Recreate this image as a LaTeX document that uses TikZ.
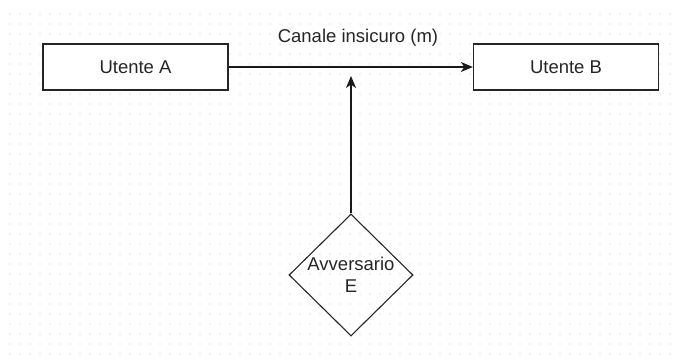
\documentclass[tikz,border=0pt]{standalone}
\usepackage{fontspec}
\setmainfont{Liberation Sans}
\usetikzlibrary{arrows.meta,shapes.geometric}
\begin{document}
\begin{tikzpicture}[x=1pt,y=-1pt,
  every node/.style={font=\fontsize{18.5}{22.5}\selectfont, text=black!85},
  box/.style={draw=black!85, line width=1.3pt, minimum width=185pt, minimum height=46pt, inner sep=0pt, fill=white},
  dia/.style={draw=black!85, line width=1.1pt, diamond, minimum width=124pt, minimum height=122pt, inner sep=0pt},
  conn/.style={draw=black!90, line width=1.3pt, -{Stealth[length=12pt,width=10pt,inset=3.5pt]}}]
\useasboundingbox (0,0) rectangle (680,362);
\fill[white] (0,0) rectangle (680,362);
\foreach \gx in {10,20,...,670} {
  \foreach \gy in {14,24,...,354} {
    \fill[black!20] (\gx,\gy) circle (0.6pt);
  }
}
\node[box] (A) at (135.5,67) {Utente A};
\node[box] (B) at (566,67) {Utente B};
\node[dia] (E) at (351,275) {};
\node[align=center] (Et) at (351,275) {Avversario\\E};
\coordinate (m) at (351,76);
\draw[conn] (A.east) -- (B.west);
\node (lbl) at (358,38) {Canale insicuro (m)};
\draw[conn] (E.north) -- (m);
\end{tikzpicture}
\end{document}
